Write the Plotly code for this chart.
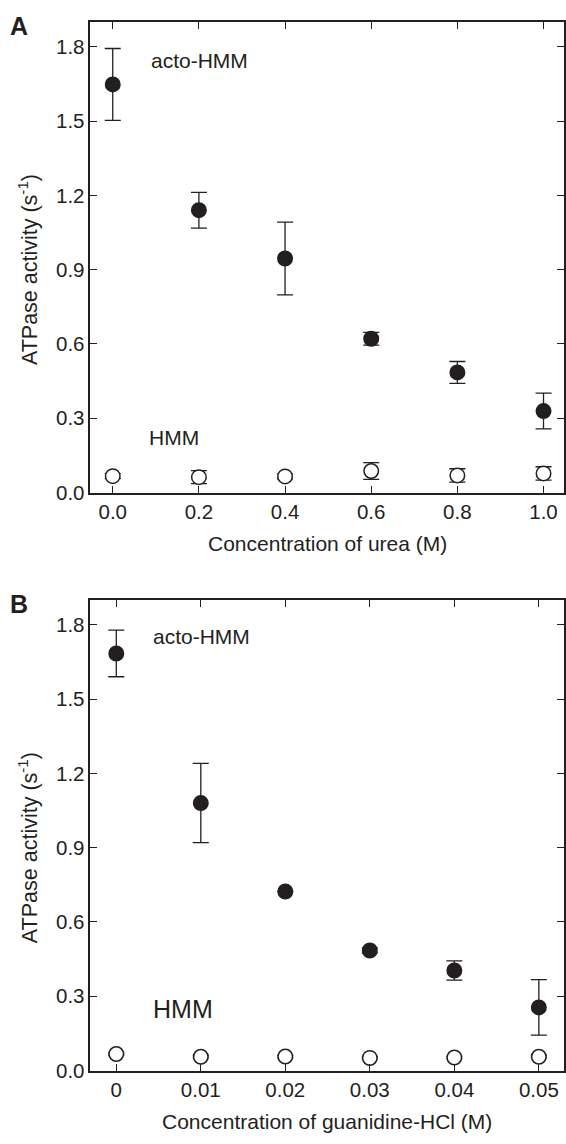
import plotly.graph_objects as go

# ---------------- data ----------------
urea_conc = [0.0, 0.2, 0.4, 0.6, 0.8, 1.0]
urea_acto = [1.648, 1.14, 0.945, 0.621, 0.485, 0.329]
urea_acto_err = [0.145, 0.072, 0.147, 0.026, 0.044, 0.072]
urea_hmm = [0.066, 0.062, 0.065, 0.087, 0.069, 0.077]
urea_hmm_err = [0.01, 0.026, 0.01, 0.034, 0.027, 0.027]
urea_ticktext = ["0.0", "0.2", "0.4", "0.6", "0.8", "1.0"]

gdn_conc = [0.0, 0.01, 0.02, 0.03, 0.04, 0.05]
gdn_acto = [1.684, 1.08, 0.723, 0.485, 0.404, 0.255]
gdn_acto_err = [0.094, 0.16, 0.0, 0.01, 0.039, 0.112]
gdn_hmm = [0.067, 0.056, 0.057, 0.051, 0.053, 0.056]
gdn_hmm_err = [0.005, 0.005, 0.005, 0.005, 0.005, 0.005]
gdn_ticktext = ["0", "0.01", "0.02", "0.03", "0.04", "0.05"]

y_tickvals = [0.0, 0.3, 0.6, 0.9, 1.2, 1.5, 1.8]
y_ticktext = ["0.0", "0.3", "0.6", "0.9", "1.2", "1.5", "1.8"]

INK = "#231F20"
FONT = "Liberation Sans, Arial, Helvetica, sans-serif"
W, H = 566, 1144


def px2paper_y(py):
    return 1 - py / H


fig = go.Figure()


def add_series(x, y, err, filled, xa, ya):
    fig.add_trace(go.Scatter(
        x=x, y=y, mode="markers", xaxis=xa, yaxis=ya, showlegend=False,
        marker=dict(size=14.5, color=INK if filled else "white",
                    line=dict(color=INK, width=1.5), symbol="circle"),
        error_y=dict(type="data", array=err, visible=True, color=INK,
                     thickness=1.3, width=8),
        cliponaxis=False,
    ))


add_series(urea_conc, urea_hmm, urea_hmm_err, False, "x", "y")
add_series(urea_conc, urea_acto, urea_acto_err, True, "x", "y")
add_series(gdn_conc, gdn_hmm, gdn_hmm_err, False, "x2", "y2")
add_series(gdn_conc, gdn_acto, gdn_acto_err, True, "x2", "y2")

xdom = [90.5 / W, 565.2 / W]
axis_common = dict(
    showline=True, linecolor=INK, linewidth=1.5, mirror="ticks",
    ticks="inside", ticklen=7, tickwidth=1.3, tickcolor=INK,
    showgrid=False, zeroline=False,
    tickfont=dict(family=FONT, size=20.5, color=INK),
)

fig.update_layout(
    width=W, height=H,
    margin=dict(l=0, r=0, t=0, b=0),
    paper_bgcolor="white", plot_bgcolor="white",
    font=dict(family=FONT, color=INK),
    xaxis=dict(domain=xdom, anchor="y", range=[-0.052, 1.048],
               tickmode="array", tickvals=urea_conc, ticktext=urea_ticktext,
               **axis_common),
    yaxis=dict(domain=[px2paper_y(497.3), px2paper_y(22.7)], anchor="x",
               range=[0, 1.898], tickmode="array", tickvals=y_tickvals,
               ticktext=y_ticktext, **axis_common),
    xaxis2=dict(domain=xdom, anchor="y2", range=[-0.00307, 0.0530],
                tickmode="array", tickvals=gdn_conc, ticktext=gdn_ticktext,
                **axis_common),
    yaxis2=dict(domain=[px2paper_y(1081), px2paper_y(606.3)], anchor="x2",
                range=[0, 1.898], tickmode="array", tickvals=y_tickvals,
                ticktext=y_ticktext, **axis_common),
)

ann = []
# series labels
ann.append(dict(x=0.0834, y=1.746, xref="x", yref="y", text="acto-HMM",
                showarrow=False, xanchor="left", yanchor="middle",
                font=dict(family=FONT, size=21, color=INK)))
ann.append(dict(x=0.0804, y=0.221, xref="x", yref="y", text="HMM",
                showarrow=False, xanchor="left", yanchor="middle",
                font=dict(family=FONT, size=21, color=INK)))
ann.append(dict(x=0.00414, y=1.753, xref="x2", yref="y2", text="acto-HMM",
                showarrow=False, xanchor="left", yanchor="middle",
                font=dict(family=FONT, size=21, color=INK)))
ann.append(dict(x=0.00416, y=0.249, xref="x2", yref="y2", text="HMM",
                showarrow=False, xanchor="left", yanchor="middle",
                font=dict(family=FONT, size=25, color=INK)))
# panel letters
ann.append(dict(x=8 / W, y=px2paper_y(26), xref="paper", yref="paper",
                text="<b>A</b>", showarrow=False, xanchor="left",
                yanchor="middle", font=dict(family=FONT, size=25, color=INK)))
ann.append(dict(x=8 / W, y=px2paper_y(610), xref="paper", yref="paper",
                text="<b>B</b>", showarrow=False, xanchor="left",
                yanchor="middle", font=dict(family=FONT, size=25, color=INK)))
# axis titles
xc = (xdom[0] + xdom[1]) / 2
ann.append(dict(x=xc, y=px2paper_y(548.3), xref="paper", yref="paper",
                text="Concentration of urea (M)", showarrow=False,
                xanchor="center", yanchor="middle",
                font=dict(family=FONT, size=21, color=INK)))
ann.append(dict(x=xc, y=px2paper_y(1132.5), xref="paper", yref="paper",
                text="Concentration of guanidine-HCl (M)", showarrow=False,
                xanchor="center", yanchor="middle",
                font=dict(family=FONT, size=21, color=INK)))
for ya in ["y", "y2"]:
    ann.append(dict(x=27.5 / W, y=0.9, xref="paper", yref=ya,
                    text="ATPase activity (s<sup>-1</sup>)", showarrow=False,
                    textangle=-90, xanchor="center", yanchor="middle",
                    font=dict(family=FONT, size=21.5, color=INK)))
fig.update_layout(annotations=ann)

fig.write_html("out.html")
